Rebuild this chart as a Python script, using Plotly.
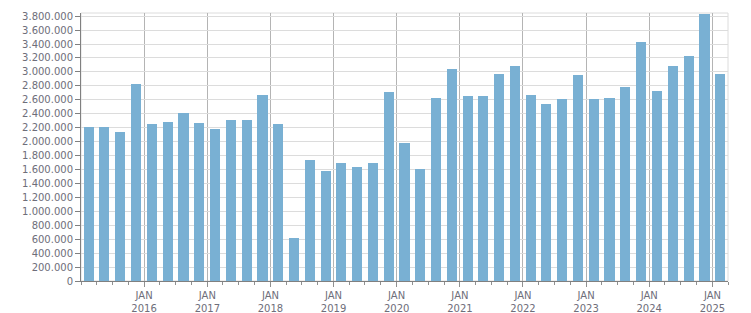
import pandas as pd
import plotly.graph_objects as go

# Quarterly data (quarter start dates) and values
quarters = pd.period_range("2015Q1", "2025Q1", freq="Q")
values = [
    2205000, 2205000, 2135000, 2825000,
    2250000, 2280000, 2405000, 2265000,
    2180000, 2305000, 2305000, 2665000,
    2250000, 612000, 1730000, 1575000,
    1690000, 1630000, 1690000, 2705000,
    1975000, 1600000, 2620000, 3035000,
    2650000, 2650000, 2965000, 3080000,
    2675000, 2535000, 2605000, 2950000,
    2605000, 2620000, 2780000, 3435000,
    2720000, 3080000, 3235000, 3830000,
    2965000,
]
year_ticks = ["2016-01-01", "2017-01-01", "2018-01-01", "2019-01-01", "2020-01-01",
              "2021-01-01", "2022-01-01", "2023-01-01", "2024-01-01", "2025-01-01"]
year_labels = ["JAN<br>2016", "JAN<br>2017", "JAN<br>2018", "JAN<br>2019", "JAN<br>2020",
               "JAN<br>2021", "JAN<br>2022", "JAN<br>2023", "JAN<br>2024", "JAN<br>2025"]

starts = quarters.start_time
ends = (quarters + 1).start_time
mids = starts + (ends - starts) / 2

fig = go.Figure(go.Bar(
    x=mids, y=values,
    width=58 * 86400000,
    marker=dict(color="#79b0d3", line=dict(width=0)),
))

font = dict(family="DejaVu Sans", size=10, color="#6e6e7a")

fig.update_layout(
    width=751, height=313,
    margin=dict(l=81, r=23, t=13, b=32),
    paper_bgcolor="white", plot_bgcolor="white",
    separators=",.",
    showlegend=False,
    bargap=0,
    shapes=[dict(type="rect", xref="paper", yref="paper", x0=0, x1=1, y0=0, y1=1,
                 line=dict(color="#dcdcdc", width=1), layer="below")],
)
fig.update_xaxes(
    type="date",
    range=["2015-01-01", "2025-04-01"],
    tickvals=year_ticks, ticktext=year_labels,
    showgrid=True, gridcolor="#b4b4b4", gridwidth=1,
    ticks="outside", ticklen=5, tickcolor="#909090",
    showline=True, linecolor="#808080", linewidth=1,
    tickfont=font,
    automargin=False,
    minor=dict(dtick="M3", tick0="2015-01-01", ticks="outside", ticklen=3,
               tickcolor="#909090", showgrid=False),
    zeroline=False,
)
fig.update_yaxes(
    range=[0, 3845000],
    dtick=200000, tick0=0,
    tickformat=",d",
    showgrid=True, gridcolor="#dcdcdc", gridwidth=1,
    ticks="outside", ticklen=5, tickcolor="#808080",
    showline=True, linecolor="#808080", linewidth=1,
    tickfont=font,
    automargin=False,
    zeroline=False,
)

fig.write_html("out.html")
